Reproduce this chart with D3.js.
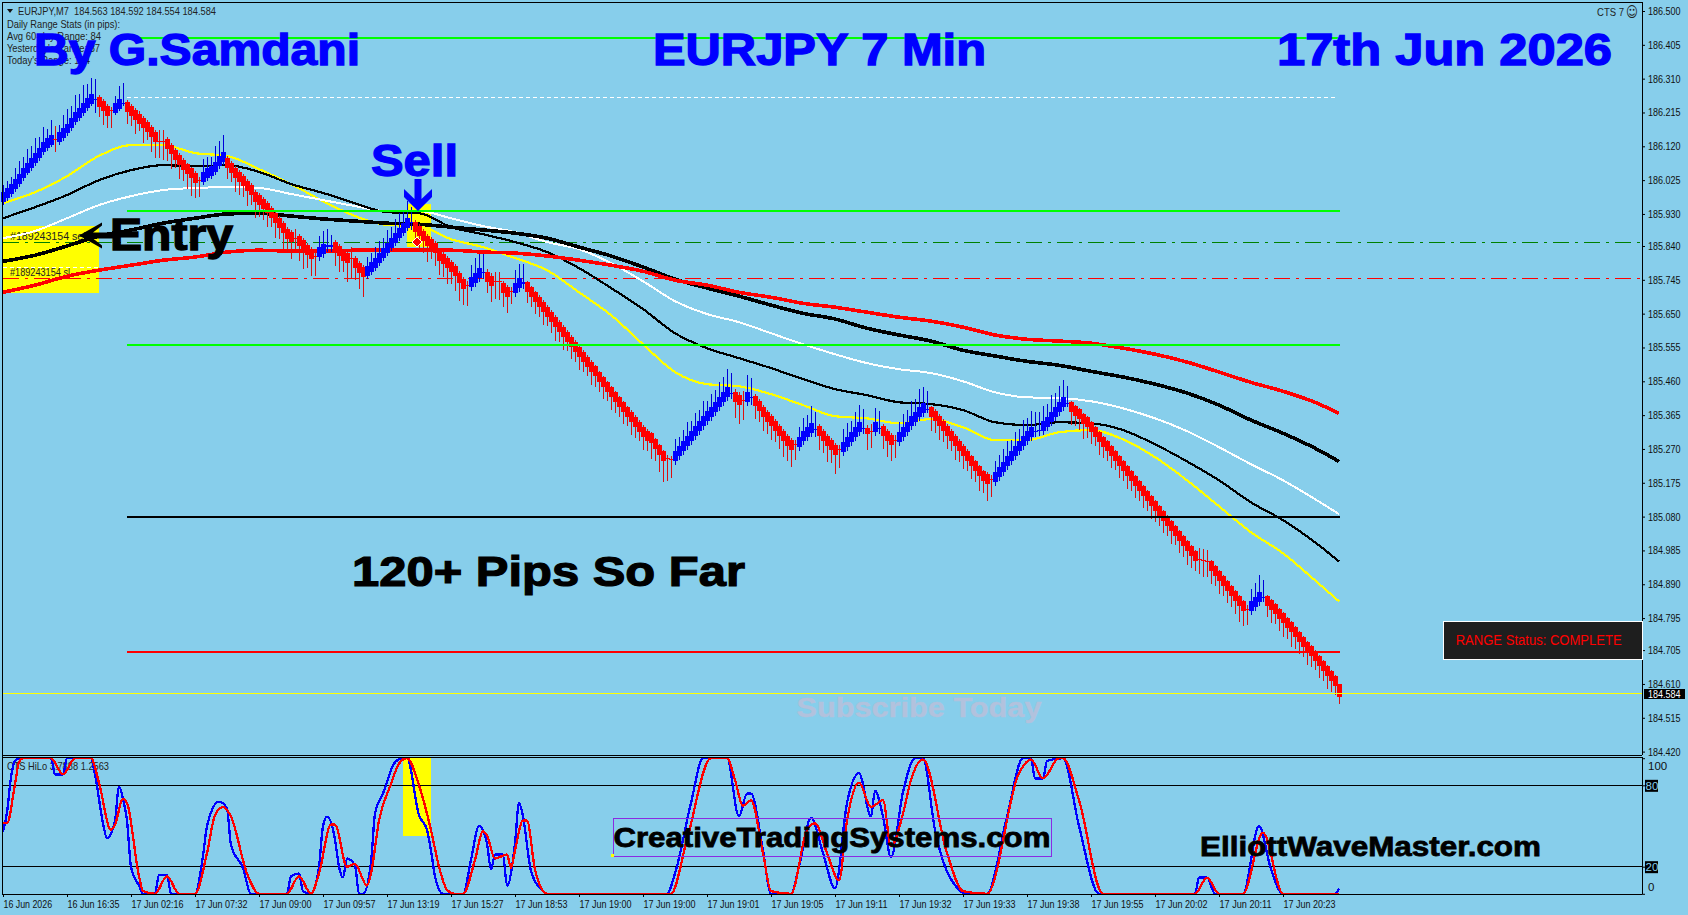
<!DOCTYPE html>
<html><head><meta charset="utf-8"><title>EURJPY 7 Min</title>
<script src="https://cdn.jsdelivr.net/npm/d3@7"></script>
<style>html,body{margin:0;padding:0;background:#87ceeb;overflow:hidden}svg{display:block}text{font-family:"Liberation Sans",Arial,sans-serif}</style>
</head><body><svg id="c" width="1688" height="915"></svg>
<script>
// ---------- DATA ----------
const barMids=[
185.978,185.989,186.001,186.015,186.029,186.045,186.060,186.074,186.088,186.102,
186.118,186.130,186.139,186.140,186.147,186.156,186.170,186.186,186.201,186.214,
186.228,186.242,186.254,186.252,186.245,186.233,186.220,186.220,186.228,186.240,
186.240,186.231,186.220,186.208,186.198,186.186,186.173,186.161,186.147,186.135,
186.135,186.126,186.111,186.095,186.081,186.067,186.055,186.044,186.032,186.025,
186.034,186.045,186.051,186.062,186.079,186.090,186.073,186.059,186.045,186.034,
186.022,186.008,185.997,185.977,185.969,185.958,185.946,185.932,185.918,185.904,
185.890,185.873,185.865,185.862,185.854,185.842,185.828,185.817,185.812,185.823,
185.831,185.840,185.840,185.837,185.826,185.812,185.806,185.806,185.792,185.778,
185.767,185.769,185.781,185.792,185.806,185.820,185.834,185.848,185.862,185.876,
185.890,185.904,185.907,185.893,185.882,185.868,185.854,185.845,185.834,185.812,
185.803,185.792,185.781,185.769,185.750,185.733,185.730,185.738,185.750,185.764,
185.765,185.753,185.741,185.741,185.741,185.723,185.711,185.713,185.723,185.736,
185.736,185.725,185.711,185.697,185.683,185.669,185.655,185.641,185.627,185.613,
185.599,185.585,185.571,185.557,185.543,185.529,185.515,185.501,185.489,185.472,
185.458,185.444,185.430,185.416,185.402,185.388,185.374,185.360,185.346,185.332,
185.318,185.307,185.300,185.283,185.266,185.250,185.244,185.241,185.250,185.264,
185.278,185.292,185.306,185.320,185.334,185.348,185.362,185.373,185.387,185.401,
185.415,185.429,185.427,185.415,185.407,185.407,185.415,185.415,185.404,185.390,
185.373,185.359,185.348,185.334,185.320,185.306,185.292,185.280,185.283,185.289,
185.306,185.317,185.328,185.325,185.320,185.306,185.292,185.280,185.266,185.269,
185.275,185.289,185.303,185.317,185.331,185.328,185.320,185.320,185.331,185.328,
185.320,185.306,185.295,185.295,185.303,185.317,185.331,185.348,185.359,185.373,
185.384,185.382,185.373,185.362,185.348,185.334,185.320,185.306,185.292,185.278,
185.264,185.250,185.235,185.221,185.207,185.193,185.185,185.185,185.191,185.205,
185.219,185.235,185.250,185.264,185.278,185.292,185.306,185.317,185.320,185.323,
185.334,185.345,185.359,185.373,185.387,185.401,185.398,185.387,185.376,185.368,
185.354,185.345,185.331,185.317,185.303,185.289,185.278,185.264,185.250,185.235,
185.221,185.207,185.193,185.179,185.165,185.151,185.137,185.123,185.109,185.095,
185.081,185.067,185.053,185.039,185.025,185.011,184.997,184.983,184.969,184.960,
184.957,184.955,184.940,184.926,184.912,184.898,184.884,184.870,184.856,184.842,
184.828,184.820,184.828,184.839,184.853,184.853,184.842,184.831,184.820,184.806,
184.794,184.780,184.769,184.755,184.741,184.727,184.713,184.702,184.688,184.674,
184.660,184.646,184.632,184.618,184.592];
// runs of [bar count, signed body size in points (0.001), counter-trend wick in points]
const bodyRuns=[[13,28,8],[1,-2,35],[9,28,8],[1,3,38],[3,-28,6],[1,-2,10],[2,28,6],[1,3,5],[8,-28,6],[2,-2,30],[8,-28,5],[1,-2,8],[6,28,8],[17,-28,6],[1,-2,25],[4,-28,6],[1,-2,10],[2,28,10],[2,3,15],[4,-28,6],[1,-2,30],[3,-28,6],[11,28,8],[1,3,20],[13,-28,6],[1,-2,10],[3,28,10],[1,3,15],[2,-28,8],[2,-2,25],[2,-28,6],[1,-2,10],[2,28,12],[1,3,15],[35,-28,4],[2,-3,8],[14,28,10],[1,3,15],[2,-28,8],[1,-2,25],[1,28,10],[1,3,20],[10,-28,6],[1,-2,10],[4,28,10],[1,3,20],[5,-28,6],[1,-3,10],[5,28,10],[1,3,15],[1,-16,8],[1,-2,20],[1,28,10],[1,3,15],[3,-28,6],[1,-2,12],[7,28,10],[1,3,10],[15,-28,5],[1,-2,10],[10,28,10],[2,3,15],[6,28,10],[1,3,8],[32,-28,4],[3,-3,30],[9,-28,4],[1,-2,12],[3,28,10],[1,3,10],[18,-28,4],[1,-38,0]];
// trend-side wick of each bar in points
const trendWicks=[
20,20,20,30,35,30,38,32,40,30,
42,25,40,35,20,38,42,32,48,38,
50,40,45,56,30,38,34,48,20,35,
55,34,30,40,22,42,20,42,47,48,
52,32,40,22,38,31,40,50,43,47,
35,30,26,44,43,48,32,26,40,36,
30,42,28,44,34,30,38,26,42,30,
44,36,48,30,42,52,36,46,56,30,
38,46,30,40,46,32,52,58,34,44,
56,26,24,30,34,28,38,32,40,44,
36,48,40,30,42,34,44,28,36,40,
36,46,34,40,50,44,58,36,42,40,
50,30,44,50,52,40,46,34,36,40,
52,30,28,34,28,36,26,32,40,30,
36,26,34,28,38,30,26,36,30,28,
34,26,36,30,28,34,26,38,30,26,
36,30,44,34,48,58,62,50,34,26,
30,40,28,36,32,42,30,38,34,44,
42,52,54,44,52,56,48,54,36,30,
38,32,40,30,36,44,42,48,42,30,
38,34,50,48,38,32,44,36,52,50,
36,40,32,44,48,52,46,46,40,48,
36,44,46,50,30,38,34,44,36,50,
46,48,38,32,40,30,36,28,38,30,
36,28,34,30,40,32,46,50,30,34,
36,42,30,40,34,44,38,46,52,50,
44,36,48,40,46,50,48,36,28,32,
42,30,34,26,36,30,28,34,26,32,
28,36,26,32,28,34,26,36,30,26,
34,28,36,26,32,30,38,34,28,40,
44,42,36,28,34,26,32,30,36,44,
40,44,34,40,50,48,30,36,28,34,
38,30,42,34,32,28,36,30,26,34,
28,36,30,26,20];
const maBars=[0,8,16,24,32,40,48,56,64,72,80,88,96,104,112,120,128,136,144,152,160,168,176,184,192,200,208,216,224,232,240,248,256,264,272,280,288,296,304,312,320,328,334];
const yellowMA=[185.960,185.991,186.036,186.093,186.123,186.123,186.101,186.093,186.056,186.014,185.966,185.924,185.899,185.896,185.859,185.837,185.806,185.772,185.710,185.646,185.564,185.486,185.452,185.446,185.424,185.393,185.362,185.356,185.342,185.354,185.331,185.295,185.295,185.317,185.323,185.297,185.247,185.182,185.109,185.036,184.977,184.901,184.842];
const blackFastMA=[185.918,185.949,185.983,186.025,186.053,186.067,186.064,186.067,186.048,186.014,185.989,185.960,185.935,185.932,185.893,185.873,185.851,185.823,185.778,185.722,185.663,185.595,185.553,185.525,185.497,185.466,185.438,185.421,185.401,185.396,185.379,185.345,185.337,185.345,185.342,185.323,185.283,185.235,185.182,185.120,185.070,185.008,184.954];
const whiteMA=[185.862,185.882,185.918,185.955,185.980,185.997,186.003,186.005,186.003,185.986,185.969,185.952,185.938,185.938,185.918,185.896,185.879,185.851,185.831,185.792,185.741,185.685,185.649,185.626,185.595,185.564,185.536,185.511,185.494,185.483,185.460,185.429,185.415,185.413,185.404,185.384,185.356,185.320,185.275,185.227,185.182,185.129,185.087];
const blackSlowMA=[185.797,185.814,185.840,185.868,185.885,185.904,185.918,185.930,185.932,185.924,185.916,185.910,185.904,185.901,185.893,185.885,185.876,185.862,185.837,185.812,185.781,185.747,185.722,185.699,185.674,185.651,185.635,185.609,185.590,185.573,185.547,185.531,185.516,185.505,185.488,185.472,185.452,185.427,185.393,185.351,185.314,185.272,185.235];
const redMA=[185.710,185.730,185.755,185.772,185.786,185.800,185.809,185.823,185.828,185.826,185.826,185.828,185.828,185.828,185.828,185.823,185.820,185.812,185.800,185.786,185.769,185.744,185.730,185.710,185.696,185.679,185.668,185.654,185.640,185.629,185.612,185.590,185.578,185.573,185.567,185.553,185.536,185.514,185.486,185.457,185.432,185.401,185.370];
const hiloBlueBars=[0,1,2,3,4,12,13,15,16,22,23,25,26,28,29,30,31,32,34,35,38,39,41,42,48,50,51,54,56,57,60,62,71,72,74,75,77,79,80,81,83,84,85,86,88,89,90,92,93,95,98,100,101,104,106,107,108,110,115,117,119,121,122,123,125,126,128,129,130,132,135,136,166,168,172,175,181,184,186,187,190,192,197,199,202,205,208,211,214,217,218,220,222,225,228,230,233,239,241,246,251,255,257,258,260,261,265,269,274,298,299,301,303,310,314,317,320,333,334];
const hiloBlue=[46,60,86,98,100,100,88,88,100,100,88,52,41,54,79,70,54,20,6,0,0,14,14,0,0,28,50,68,63,36,19,0,0,13,15,2,0,20,50,57,40,20,12,26,21,0,0,23,59,74,97,100,100,58,47,32,13,0,0,25,50,37,18,29,29,6,37,67,57,17,2,0,0,15,67,100,100,57,74,74,32,0,0,20,56,30,4,67,89,57,76,57,27,75,100,100,47,3,0,0,57,100,100,85,85,98,100,50,0,0,12,12,0,0,50,18,0,0,4];
const hiloRedBars=[0,1,3,4,5,12,15,18,22,24,27,28,30,31,34,35,38,41,44,48,51,53,55,57,61,64,71,74,77,79,82,83,86,88,91,92,94,97,99,101,104,107,109,111,113,115,118,120,121,123,126,127,128,130,131,133,136,167,171,177,181,183,185,187,190,192,197,201,203,206,209,211,214,217,220,222,225,227,230,236,240,246,254,257,260,264,265,269,275,298,301,304,310,315,320,334];
const hiloRed=[52,52,81,97,100,100,88,100,100,82,47,51,70,67,13,2,0,13,0,0,30,58,64,57,15,0,0,13,0,15,51,51,20,22,6,15,54,81,96,100,80,47,20,3,0,0,25,46,43,26,29,19,32,54,54,18,0,0,40,100,100,84,65,69,30,2,0,47,52,30,10,54,82,64,69,35,59,84,99,30,2,0,89,99,85,100,100,69,0,0,12,0,0,45,0,0];
const priceTicks=[186.500,186.405,186.310,186.215,186.120,186.025,185.930,185.840,185.745,185.650,185.555,185.460,185.365,185.270,185.175,185.080,184.985,184.890,184.795,184.705,184.610,184.515,184.420];
const timeLabels=["16 Jun 2026","16 Jun 16:35","17 Jun 02:16","17 Jun 07:32","17 Jun 09:00","17 Jun 09:57","17 Jun 13:19","17 Jun 15:27","17 Jun 18:53","17 Jun 19:00","17 Jun 19:00","17 Jun 19:01","17 Jun 19:05","17 Jun 19:11","17 Jun 19:32","17 Jun 19:33","17 Jun 19:38","17 Jun 19:55","17 Jun 20:02","17 Jun 20:11","17 Jun 20:23"];
const hiloTicks=[100,80,20,0];
const lastPrice=184.584;
const levelPrices={green1:186.424,white:186.257,green2:185.938,green3:185.562,black:185.079,red:184.700};
const orderPrices={entry:185.849,stop:185.748};
const infoLines=[["Daily Range Stats (in pips):",113],["Avg 60-day Range: 84",94],["Yesterday's Range: 87",93],["Today's Range: 174",83]];

// ---------- SCALES ----------
const sky="#87ceeb";
const x=d3.scaleLinear().domain([0,334]).range([3,1339]);
const y=d3.scaleLinear().domain([184.42,186.5]).range([751.6,11]);
const yh=d3.scaleLinear().domain([0,100]).range([893.8,758.2]);
const svg=d3.select("#c");
svg.append("rect").attr("width",1688).attr("height",915).attr("fill",sky);
const fit=(s,w)=>s.attr("textLength",w).attr("lengthAdjust","spacingAndGlyphs");
function T(str,px,py,size,fill,w,bold,stroke){
  const t=svg.append("text").attr("x",px).attr("y",py).attr("font-size",size).attr("fill",fill).text(str);
  if(bold)t.attr("font-weight","bold");
  if(stroke)t.attr("stroke",fill).attr("stroke-width",stroke);
  if(w)fit(t,w);
  return t;
}
const R=(a,b,c,d,f)=>svg.append("rect").attr("x",a).attr("y",b).attr("width",c-a).attr("height",d-b).attr("fill",f).attr("shape-rendering","crispEdges");

// ---------- BACK ANNOTATIONS ----------
R(3,226,99,293,"#ffff00");
R(407,204,431,247,"#ffff00");
R(403,758,431,836,"#ffff00");
T("#189243154 sell",10,240,11,"#222",78);
T("#189243154 sl",10,276,11,"#222",60);
const hline=(p,a,b,col,w,dash)=>svg.append("line").attr("x1",a).attr("x2",b).attr("y1",y(p)).attr("y2",y(p)).attr("stroke",col).attr("stroke-width",w).attr("stroke-dasharray",dash||null).attr("shape-rendering","crispEdges");
hline(levelPrices.green1,127,1338,"#00ff00",2);
hline(levelPrices.white,127,1336,"#ffffff",1,"4 3");
hline(orderPrices.entry,3,1642,"#008000",1,"16 6 3 6");
hline(orderPrices.stop,3,1642,"#ff0000",1,"16 6 3 6");
svg.append("line").attr("x1",3).attr("x2",100).attr("y1",267).attr("y2",267).attr("stroke","#fff").attr("stroke-dasharray","4 3").attr("shape-rendering","crispEdges");

// ---------- INFO TEXT ----------
svg.append("path").attr("d","M7 9h6l-3 4z").attr("fill","#111");
T("EURJPY,M7  184.563 184.592 184.554 184.584",18,14.5,11,"#222",198).attr("xml:space","preserve");
infoLines.forEach((l,i)=>T(l[0],7,27.5+i*12,11,"#222",l[1]));
T("CTS 7",1597,15.5,11,"#222",27);
T("\u263A",1626,17,15,"#222",12).style("font-family","DejaVu Sans");
T("CTS HiLo 3.7888 1.2563",7,770,11,"#222",102);

// ---------- MOVING AVERAGES ----------
const maLine=d3.line().x((d,i)=>x(maBars[i])).y(d=>y(d)).curve(d3.curveMonotoneX);
[[yellowMA,"#ffff00",2.2],[whiteMA,"#ffffff",2],[blackFastMA,"#000",2.2],[blackSlowMA,"#000",3.6],[redMA,"#ff0000",3.6]].forEach(([a,c,w])=>{
  svg.append("path").attr("d",maLine(a)).attr("fill","none").attr("stroke",c).attr("stroke-width",w).attr("shape-rendering","crispEdges");
});

// ---------- CANDLES ----------
const runs=bodyRuns.flatMap(r=>d3.range(r[0]).map(()=>r));
const candles=barMids.map((m,i)=>{
  const s=runs[i][1]/1000,up=s>0,short=runs[i][2]/1000,long=trendWicks[i]/1000;
  const top=m+Math.abs(s)/2,bot=m-Math.abs(s)/2;
  return{i,up,top,bot,high:top+(up?long:short),low:bot-(up?short:long)};
});
const cg=svg.append("g").attr("shape-rendering","crispEdges");
cg.selectAll("line").data(candles).join("line")
  .attr("x1",d=>x(d.i)+.5).attr("x2",d=>x(d.i)+.5).attr("y1",d=>y(d.high)).attr("y2",d=>y(d.low))
  .attr("stroke",d=>d.up?"#0000d8":"#dc1010").attr("stroke-width",1.4);
cg.selectAll("rect").data(candles).join("rect")
  .attr("x",d=>x(d.i)-2).attr("width",5).attr("y",d=>y(d.top))
  .attr("height",d=>Math.max(1,y(d.bot)-y(d.top)))
  .attr("fill",d=>d.up?"#0000ff":"#ff0000");

// ---------- LEVEL LINES OVER ----------
hline(levelPrices.green2,127,1340,"#00ff00",2);
hline(levelPrices.green3,127,1340,"#00ff00",2);
hline(levelPrices.black,127,1340,"#000",2);
hline(levelPrices.red,127,1340,"#ff0000",2);
hline(lastPrice,3,1642,"#ffff00",1);
svg.append("path").attr("d","M417 237l5 5-5 5-5-5z").attr("fill","#ff0000").attr("stroke","#fff");

// ---------- OSCILLATOR ----------
[80,20].forEach(v=>svg.append("line").attr("x1",3).attr("x2",1642).attr("y1",yh(v)).attr("y2",yh(v)).attr("stroke","#000").attr("shape-rendering","crispEdges"));
const hl=b=>d3.line().x((d,i)=>x(b[i])).y(d=>yh(d)).curve(d3.curveMonotoneX);
svg.append("path").attr("d",hl(hiloBlueBars)(hiloBlue)).attr("fill","none").attr("stroke","#0000ff").attr("stroke-width",2.3).attr("shape-rendering","crispEdges");
svg.append("path").attr("d",hl(hiloRedBars)(hiloRed)).attr("fill","none").attr("stroke","#ff0000").attr("stroke-width",2.3).attr("shape-rendering","crispEdges");

// ---------- FRAME & AXES ----------
const fr=(x1,y1,x2,y2)=>svg.append("line").attr("x1",x1).attr("y1",y1).attr("x2",x2).attr("y2",y2).attr("stroke","#000").attr("shape-rendering","crispEdges");
fr(2,2,1642,2);fr(2,2,2,894);fr(2,755.5,1642,755.5);fr(2,757.5,1642,757.5);fr(2,894,1642,894);
const ax=svg.append("g").attr("transform","translate(1642,0)").call(d3.axisRight(y).tickValues(priceTicks).tickFormat(d3.format(".3f")).tickSize(3).tickPadding(3));
ax.select(".domain").attr("d","M0.5,2V755").attr("stroke","#000");
ax.selectAll("text").attr("font-size",10.8).attr("fill","#111").style("font-family","Liberation Sans").attr("textLength",32.5).attr("lengthAdjust","spacingAndGlyphs");
const ax2=svg.append("g").attr("transform","translate(1642,0)").call(d3.axisRight(yh).tickValues(hiloTicks).tickFormat(d3.format("d")).tickSize(3).tickPadding(3));
ax2.select(".domain").attr("d","M0.5,757V894").attr("stroke","#000");
ax2.selectAll("text").attr("font-size",11.5).attr("fill","#111").style("font-family","Liberation Sans");
ax2.selectAll(".tick").filter(d=>d==100).select("text").attr("dy","1.0em");
ax2.selectAll(".tick").filter(d=>d==0).select("text").attr("dy","-0.3em");
ax2.selectAll(".tick").filter(d=>d==80||d==20).each(function(){
  d3.select(this).insert("rect","text").attr("x",3).attr("y",-6).attr("width",13).attr("height",12).attr("fill","#000");
  d3.select(this).select("text").attr("fill",sky).attr("x",3.5);
});
R(1644,688.5,1685,699,"#000");
T(d3.format(".3f")(lastPrice),1648,697.5,10.8,"#fff",32.5);
const tx=svg.append("g").attr("transform","translate(0,894)").call(d3.axisBottom(x).tickValues(timeLabels.map((_,i)=>i*16)).tickFormat((d,i)=>timeLabels[i]).tickSize(3).tickPadding(3));
tx.select(".domain").remove();
tx.selectAll("text").attr("font-size",11.5).attr("fill","#111").attr("text-anchor","start").style("font-family","Liberation Sans").each(function(d,i){
  d3.select(this).attr("textLength",i==0?48.6:52).attr("lengthAdjust","spacingAndGlyphs");
});
tx.selectAll("line").attr("stroke","#000");

// ---------- OVERLAY TEXT ----------
const blue="#0000ff";
T("By G.Samdani",34,65,44,blue,326,true,1.3);
T("EURJPY 7 Min",653,65,44,blue,333,true,1.3);
T("17th Jun 2026",1277,65,44,blue,335,true,1.3);
T("Sell",371,176,44,blue,87,true,1.3);
svg.append("path").attr("d","M414.5 179h7v20l10.5-10v8l-14 14-14-14v-8l10.5 10z").attr("fill",blue);
svg.append("path").attr("d","M114 232.5H93l9-7v-3l-23 13 23 13v-3l-9-7h21z").attr("fill","#000");
T("Entry",110,250,44,"#000",123,true,1.3);
T("120+ Pips So Far",352,586,43,"#000",393,true,1.2);
T("Subscribe Today",796.5,717,28,"#b2c2dd",245,true,.4);
T("CreativeTradingSystems.com",613.4,847,28,"#000",437,true,.8);
svg.append("rect").attr("x",613.5).attr("y",818.5).attr("width",438).attr("height",38).attr("fill","none").attr("stroke","#8a2be2").attr("shape-rendering","crispEdges");
R(611,854,614,857,"#ffff00");
T("ElliottWaveMaster.com",1200,856,28,"#000",341,true,.8);
svg.append("rect").attr("x",1443).attr("y",621).attr("width",199).attr("height",38).attr("fill","#1e1e1e").attr("stroke","#fff").attr("shape-rendering","crispEdges");
T("RANGE Status: COMPLETE",1455.7,645,14,"#ff0000",166);
</script></body></html>
